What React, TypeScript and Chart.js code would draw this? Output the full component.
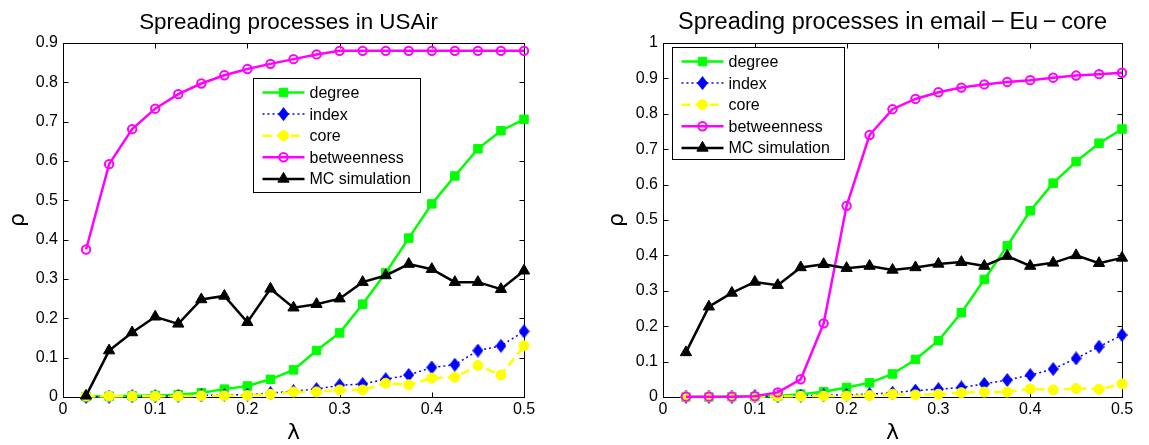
import React, { useEffect, useRef } from "react";
import { Chart, registerables } from "chart.js";
import { drawPoint } from "chart.js/helpers";

Chart.register(...registerables);
Chart.defaults.font.family = "'Liberation Sans', Arial, sans-serif";
Chart.defaults.color = "#000";

// ---------- data ----------
const lambdas = [0.025, 0.05, 0.075, 0.1, 0.125, 0.15, 0.175, 0.2, 0.225, 0.25, 0.275, 0.3, 0.325, 0.35, 0.375, 0.4, 0.425, 0.45, 0.475, 0.5];
const seriesNames = ["degree", "index", "core", "betweenness", "MC simulation"];

const usairDegree = [0.001, 0.002, 0.003, 0.004, 0.006, 0.011, 0.02, 0.028, 0.045, 0.069, 0.118, 0.163, 0.236, 0.316, 0.404, 0.491, 0.562, 0.631, 0.677, 0.706];
const usairIndex = [0.0, 0.001, 0.002, 0.002, 0.003, 0.004, 0.005, 0.006, 0.01, 0.015, 0.02, 0.03, 0.033, 0.045, 0.056, 0.075, 0.082, 0.118, 0.13, 0.167];
const usairCore = [0.002, 0.002, 0.002, 0.002, 0.002, 0.003, 0.003, 0.004, 0.007, 0.013, 0.013, 0.018, 0.018, 0.035, 0.031, 0.048, 0.05, 0.08, 0.056, 0.13];
const usairBetweenness = [0.375, 0.592, 0.681, 0.733, 0.77, 0.797, 0.818, 0.834, 0.847, 0.859, 0.871, 0.88, 0.88, 0.88, 0.88, 0.88, 0.88, 0.88, 0.88, 0.88];
const usairMC = [0.003, 0.118, 0.164, 0.204, 0.186, 0.248, 0.257, 0.19, 0.275, 0.227, 0.236, 0.25, 0.292, 0.309, 0.338, 0.325, 0.292, 0.292, 0.274, 0.321];

const emailDegree = [0.0, 0.0, 0.001, 0.001, 0.003, 0.008, 0.015, 0.027, 0.04, 0.065, 0.106, 0.159, 0.238, 0.332, 0.427, 0.526, 0.604, 0.665, 0.717, 0.757];
const emailIndex = [0.001, 0.001, 0.001, 0.002, 0.002, 0.004, 0.005, 0.006, 0.008, 0.012, 0.018, 0.022, 0.027, 0.037, 0.048, 0.062, 0.079, 0.109, 0.142, 0.175];
const emailCore = [0.001, 0.001, 0.001, 0.001, 0.002, 0.002, 0.003, 0.003, 0.004, 0.008, 0.006, 0.008, 0.012, 0.014, 0.014, 0.023, 0.02, 0.024, 0.022, 0.037];
const emailBetweenness = [0.001, 0.001, 0.001, 0.002, 0.013, 0.05, 0.208, 0.54, 0.74, 0.813, 0.842, 0.861, 0.874, 0.883, 0.89, 0.895, 0.902, 0.908, 0.912, 0.916];
const emailMC = [0.126, 0.255, 0.294, 0.325, 0.316, 0.366, 0.375, 0.364, 0.37, 0.359, 0.366, 0.376, 0.381, 0.37, 0.398, 0.37, 0.379, 0.4, 0.378, 0.393];

const usairSeries = [usairDegree, usairIndex, usairCore, usairBetweenness, usairMC];
const emailSeries = [emailDegree, emailIndex, emailCore, emailBetweenness, emailMC];

// ---------- styles ----------
function makeDiamond(color: string, w: number, h: number) {
  const c = document.createElement("canvas");
  c.width = w;
  c.height = h;
  const g = c.getContext("2d")!;
  g.fillStyle = color;
  g.beginPath();
  g.moveTo(w / 2, 0);
  g.lineTo(w, h / 2);
  g.lineTo(w / 2, h);
  g.lineTo(0, h / 2);
  g.closePath();
  g.fill();
  return c;
}

const seriesStyles: any[] = [
  { color: "#00ff00", pointStyle: "rect", radius: 6, lineWidth: 2.5, dash: [], fill: "#00ff00", pbw: 1 },
  { color: "#0000ff", pointStyle: "diamond", radius: 6, lineWidth: 1.5, dash: [2, 3], fill: "#0000ff", pbw: 1 },
  { color: "#ffff00", pointStyle: "circle", radius: 5, lineWidth: 2.5, dash: [9, 5], fill: "#ffff00", pbw: 1 },
  { color: "#ff00ff", pointStyle: "circle", radius: 4.2, lineWidth: 2.5, dash: [], fill: "rgba(0,0,0,0)", pbw: 2 },
  { color: "#000000", pointStyle: "triangle", radius: 6.5, lineWidth: 2.5, dash: [], fill: "#000000", pbw: 1 },
];

type PanelProps = {
  left: number;
  width: number;
  yAxisWidth: number;
  rightPad: number;
  yMax: number;
  rhoPad: number;
  title: string;
  titleSize: number;
  titleShift: number;
  series: number[][];
  legend: { x: number; y: number; w: number; h: number };
};

function fmt(v: number) {
  return String(Number(Number(v).toFixed(2)));
}

function Panel(p: PanelProps) {
  const ref = useRef<HTMLCanvasElement | null>(null);
  useEffect(() => {
    const canvas = ref.current;
    if (!canvas) return;
    const diamond = makeDiamond("#0000ff", 11, 14);
    const styleOf = (k: number) => (seriesStyles[k].pointStyle === "diamond" ? diamond : seriesStyles[k].pointStyle);

    const datasets = p.series.map((vals, k) => {
      const s = seriesStyles[k];
      return {
        label: seriesNames[k],
        data: lambdas.map((x, i) => ({ x, y: vals[i] })),
        borderColor: s.color,
        borderWidth: s.lineWidth,
        borderDash: s.dash,
        pointStyle: styleOf(k),
        pointRadius: s.radius,
        pointHoverRadius: s.radius,
        pointBackgroundColor: s.fill,
        pointBorderColor: s.color,
        pointBorderWidth: s.pbw,
        tension: 0,
        fill: false,
        clip: false,
        order: 5 - k,
      };
    });

    const framePlugin = {
      id: "frame",
      beforeDatasetsDraw(chart: any) {
        const { ctx, chartArea: a, scales } = chart;
        ctx.save();
        ctx.strokeStyle = "#000";
        ctx.lineWidth = 1;
        ctx.setLineDash([]);
        const L = Math.round(a.left) + 0.5, R = Math.round(a.right) + 0.5;
        const T = Math.round(a.top) + 0.5, B = Math.round(a.bottom) + 0.5;
        ctx.strokeRect(L, T, R - L, B - T);
        const tl = 5;
        ctx.beginPath();
        scales.x.ticks.forEach((_t: any, i: number) => {
          const px = Math.round(scales.x.getPixelForTick(i)) + 0.5;
          ctx.moveTo(px, B); ctx.lineTo(px, B - tl);
          ctx.moveTo(px, T); ctx.lineTo(px, T + tl);
        });
        scales.y.ticks.forEach((_t: any, i: number) => {
          const py = Math.round(scales.y.getPixelForTick(i)) + 0.5;
          ctx.moveTo(L, py); ctx.lineTo(L + tl, py);
          ctx.moveTo(R, py); ctx.lineTo(R - tl, py);
        });
        ctx.stroke();
        ctx.restore();
      },
    };

    const decorPlugin = {
      id: "decor",
      afterDatasetsDraw(chart: any) {
        const { ctx, chartArea: a } = chart;
        ctx.save();
        // title
        ctx.fillStyle = "#000";
        ctx.font = `${p.titleSize}px 'Liberation Sans', Arial, sans-serif`;
        ctx.textAlign = "center";
        ctx.textBaseline = "alphabetic";
        ctx.fillText(p.title, (a.left + a.right) / 2 + p.titleShift, 28.5);
        // legend box
        const bx = Math.round(a.left + p.legend.x) + 0.5;
        const by = Math.round(a.top + p.legend.y) + 0.5;
        ctx.fillStyle = "#fff";
        ctx.fillRect(bx, by, p.legend.w, p.legend.h);
        ctx.strokeStyle = "#000";
        ctx.lineWidth = 1;
        ctx.setLineDash([]);
        ctx.strokeRect(bx, by, p.legend.w, p.legend.h);
        const rowH = 21.6;
        seriesNames.forEach((name, k) => {
          const s = seriesStyles[k];
          const y = by + 14 + k * rowH;
          ctx.save();
          ctx.strokeStyle = s.color;
          ctx.lineWidth = s.lineWidth;
          ctx.setLineDash(s.dash);
          ctx.beginPath();
          ctx.moveTo(bx + 9, y);
          ctx.lineTo(bx + 51, y);
          ctx.stroke();
          ctx.setLineDash([]);
          ctx.fillStyle = s.fill;
          ctx.strokeStyle = s.color;
          ctx.lineWidth = s.pbw;
          drawPoint(ctx, { pointStyle: styleOf(k), radius: s.radius, rotation: 0, borderWidth: s.pbw } as any, bx + 30, y);
          ctx.restore();
          ctx.fillStyle = "#000";
          ctx.font = "16px 'Liberation Sans', Arial, sans-serif";
          ctx.textAlign = "left";
          ctx.textBaseline = "middle";
          ctx.fillText(name, bx + 56, y + 1);
        });
        ctx.restore();
      },
    };

    const chart = new Chart(canvas, {
      type: "line",
      data: { datasets: datasets as any },
      options: {
        responsive: false,
        animation: false,
        events: [],
        layout: { padding: { left: 0, right: p.rightPad, top: 43, bottom: 0 } },
        plugins: { legend: { display: false }, tooltip: { enabled: false }, title: { display: false } },
        scales: {
          x: {
            type: "linear",
            min: 0,
            max: 0.5,
            grid: { display: false, drawTicks: false },
            border: { display: false },
            ticks: { stepSize: 0.1, padding: 3, font: { size: 16 }, color: "#000", maxRotation: 0, callback: (v: any) => fmt(v) },
            title: { display: true, text: "λ", font: { size: 22, family: "'DejaVu Sans', sans-serif" }, color: "#000", padding: { top: 0, bottom: -1 } },
            afterFit: (s: any) => { s.height = 48; },
          },
          y: {
            type: "linear",
            min: 0,
            max: p.yMax,
            grid: { display: false, drawTicks: false },
            border: { display: false },
            ticks: { stepSize: 0.1, padding: 5, font: { size: 16 }, color: "#000", callback: (v: any) => fmt(v) },
            title: { display: true, text: "ρ", font: { size: 22, family: "'DejaVu Sans', sans-serif" }, color: "#000", padding: { top: p.rhoPad, bottom: 0 } },
            afterFit: (s: any) => { s.width = p.yAxisWidth; },
          },
        },
      } as any,
      plugins: [framePlugin, decorPlugin],
    });
    return () => chart.destroy();
  }, []);

  return (
    <div style={{ position: "absolute", left: p.left, top: 0, width: p.width, height: 445 }}>
      <canvas ref={ref} width={p.width} height={445} style={{ width: p.width, height: 445, display: "block" }} />
    </div>
  );
}

export default function App() {
  return (
    <div style={{ position: "fixed", left: 0, top: 0, width: 1149, height: 445, background: "#fff", overflow: "hidden" }}>
      <Panel
        left={0}
        width={560}
        yAxisWidth={63}
        rightPad={36}
        yMax={0.9}
        rhoPad={5}
        title="Spreading processes in USAir"
        titleSize={22.4}
        titleShift={-5}
        series={usairSeries}
        legend={{ x: 190, y: 35, w: 167, h: 114 }}
      />
      <Panel
        left={574}
        width={575}
        yAxisWidth={89}
        rightPad={27}
        yMax={1}
        rhoPad={30}
        title={"Spreading processes in email\u2009\u2212\u2009Eu\u2009\u2212\u2009core"}
        titleSize={23.5}
        titleShift={0}
        series={emailSeries}
        legend={{ x: 9, y: 4, w: 172, h: 112 }}
      />
    </div>
  );
}
